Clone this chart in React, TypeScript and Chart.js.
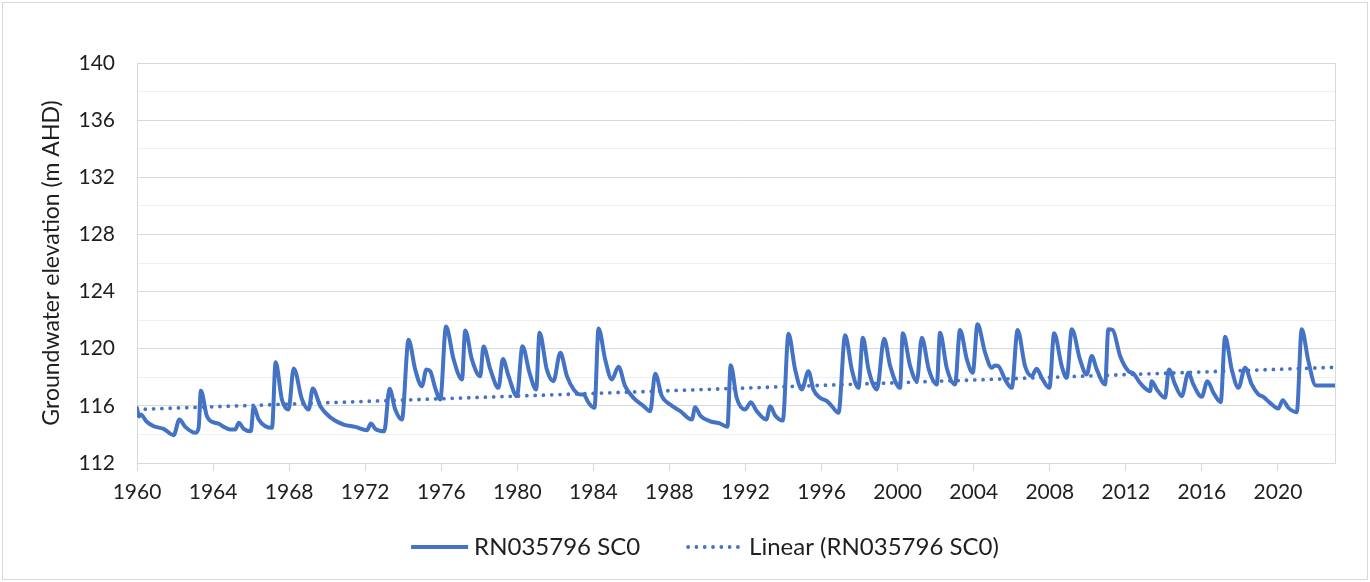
import React, { useEffect, useRef } from "react";
import { Chart, registerables } from "chart.js";

Chart.register(...registerables);

// ---- data (decimal years / groundwater elevation, m AHD) ----
const years = [
  1960.0, 1960.1, 1960.2, 1960.5, 1960.88, 1961.4, 1961.93, 1962.23, 1962.54, 1963.07,
  1963.24, 1963.36, 1963.68, 1964.12, 1964.29, 1964.56, 1964.91, 1965.17, 1965.35, 1965.61,
  1965.99, 1966.13, 1966.4, 1966.75, 1967.1, 1967.29, 1967.62, 1967.97, 1968.24, 1968.68,
  1969.03, 1969.24, 1969.64, 1970.16, 1970.86, 1971.48, 1972.09, 1972.3, 1972.53, 1973.0,
  1973.28, 1973.58, 1973.93, 1974.28, 1974.63, 1974.98, 1975.22, 1975.42, 1975.68, 1975.95,
  1976.25, 1976.65, 1977.09, 1977.26, 1977.61, 1978.05, 1978.22, 1978.58, 1979.01, 1979.24,
  1979.54, 1979.98, 1980.27, 1980.64, 1980.99, 1981.17, 1981.55, 1981.9, 1982.26, 1982.61,
  1982.96, 1983.31, 1983.48, 1983.75, 1984.06, 1984.27, 1984.62, 1984.97, 1985.32, 1985.67,
  1986.11, 1986.64, 1986.99, 1987.25, 1987.6, 1988.04, 1988.57, 1989.18, 1989.35, 1989.62,
  1990.14, 1990.67, 1991.05, 1991.22, 1991.54, 1991.98, 1992.28, 1992.59, 1993.09, 1993.3,
  1993.56, 1993.96, 1994.26, 1994.61, 1994.96, 1995.31, 1995.57, 1995.92, 1996.28, 1996.54,
  1996.89, 1997.24, 1997.59, 1997.94, 1998.17, 1998.47, 1998.91, 1999.29, 1999.61, 2000.13,
  2000.27, 2000.66, 2001.01, 2001.27, 2001.64, 2002.06, 2002.23, 2002.58, 2003.02, 2003.28,
  2003.64, 2003.95, 2004.2, 2004.6, 2004.95, 2005.12, 2005.3, 2005.65, 2006.0, 2006.31,
  2006.7, 2007.05, 2007.31, 2007.58, 2007.98, 2008.23, 2008.63, 2008.89, 2009.16, 2009.59,
  2009.94, 2010.21, 2010.47, 2010.91, 2011.08, 2011.31, 2011.7, 2012.14, 2012.4, 2012.75,
  2013.28, 2013.36, 2013.63, 2014.06, 2014.27, 2014.59, 2014.94, 2015.29, 2015.55, 2015.99,
  2016.29, 2016.61, 2016.99, 2017.22, 2017.57, 2017.92, 2018.27, 2018.62, 2018.97, 2019.23,
  2019.58, 2020.02, 2020.25, 2020.55, 2020.99, 2021.25, 2021.6, 2021.99, 2023.0,
];

const levels = [
  115.85, 115.25, 115.4, 114.9, 114.57, 114.39, 113.95, 115.05, 114.53, 114.11,
  114.46, 117.05, 115.27, 114.81, 114.76, 114.53, 114.34, 114.34, 114.81, 114.39,
  114.22, 115.95, 115.04, 114.57, 114.46, 119.05, 116.44, 115.74, 118.62, 116.44,
  115.74, 117.22, 115.98, 115.2, 114.69, 114.53, 114.29, 114.76, 114.39, 114.22,
  117.19, 115.74, 115.04, 120.62, 118.55, 117.38, 118.55, 118.43, 117.26, 116.44,
  121.55, 119.25, 117.85, 121.28, 119.25, 118.08, 120.15, 118.55, 117.26, 119.28,
  118.08, 116.68, 120.18, 118.32, 117.15, 121.12, 118.55, 117.73, 119.72, 118.08,
  117.15, 116.8, 116.8, 116.21, 115.86, 121.42, 119.25, 117.85, 118.74, 117.38,
  116.56, 115.98, 115.63, 118.25, 116.68, 116.09, 115.63, 115.04, 115.9, 115.32,
  114.92, 114.76, 114.53, 118.85, 116.55, 115.74, 116.26, 115.63, 115.04, 115.98,
  115.32, 114.97, 121.05, 118.55, 117.15, 118.43, 117.15, 116.56, 116.33, 115.98,
  115.51, 120.94, 118.55, 117.26, 120.77, 118.55, 117.15, 120.7, 118.78, 117.26,
  121.08, 118.78, 117.73, 120.77, 118.55, 117.5, 121.12, 118.67, 117.5, 121.31,
  119.25, 118.32, 121.71, 119.72, 118.67, 118.83, 118.78, 117.85, 117.26, 121.31,
  118.78, 118.08, 118.6, 117.96, 117.26, 121.08, 118.78, 117.96, 121.36, 119.25,
  118.2, 119.49, 118.55, 117.5, 121.36, 121.31, 119.49, 118.43, 118.27, 117.6,
  117.03, 117.73, 117.15, 116.56, 118.55, 117.5, 116.68, 118.32, 117.5, 116.63,
  117.73, 116.91, 116.26, 120.84, 118.55, 117.26, 118.67, 117.5, 116.8, 116.63,
  116.21, 115.81, 116.4, 115.86, 115.56, 121.36, 119.13, 117.43, 117.43,
];

// Linear trend line end points
const trendYears = [1960, 2023];
const trendLevels = [115.75, 118.7];

// Axis ticks
const xTickYears = [1960, 1964, 1968, 1972, 1976, 1980, 1984, 1988, 1992, 1996, 2000, 2004, 2008, 2012, 2016, 2020];
const yGridValues = [112, 114, 116, 118, 120, 122, 124, 126, 128, 130, 132, 134, 136, 138, 140];
const yLabelValues = [112, 116, 120, 124, 128, 132, 136, 140];

const seriesLabel = "RN035796 SC0";
const trendLabel = "Linear (RN035796 SC0)";
const yTitle = "Groundwater elevation (m AHD)";

const BLUE = "#4472C4";
const TEXT = "#1f1f1f";
const FONT = "Lato, 'Open Sans', sans-serif";

const W = 1370;
const H = 582;

const framePlugin = {
  id: "frame",
  afterDraw(chart: any) {
    const { ctx, chartArea } = chart;
    ctx.save();
    ctx.strokeStyle = "#d9d9d9";
    ctx.lineWidth = 1;
    ctx.strokeRect(2.5, 2.5, W - 5, H - 5);
    ctx.beginPath();
    ctx.moveTo(Math.round(chartArea.right) + 0.5, chartArea.top);
    ctx.lineTo(Math.round(chartArea.right) + 0.5, chartArea.bottom);
    ctx.stroke();
    ctx.restore();
  },
};

// Legend drawn from the datasets (line sample + label), centred under the plot
const legendPlugin = {
  id: "customLegend",
  afterDraw(chart: any) {
    const { ctx } = chart;
    const sets = chart.data.datasets;
    const fontSize = 24;
    const sampleW = 57;
    const sampleGap = 6;
    const itemGap = 46;
    const centerX = 705;
    const y = 547;
    ctx.save();
    ctx.font = `${fontSize}px ${FONT}`;
    const widths = sets.map((d: any) => ctx.measureText(d.label).width);
    const total =
      widths.reduce((a: number, b: number) => a + b, 0) +
      sets.length * (sampleW + sampleGap) +
      (sets.length - 1) * itemGap;
    let x = centerX - total / 2;
    sets.forEach((d: any, i: number) => {
      ctx.beginPath();
      ctx.strokeStyle = d.borderColor;
      ctx.lineWidth = d.borderWidth;
      ctx.lineCap = d.borderDash ? "round" : "butt";
      ctx.setLineDash(d.borderDash || []);
      ctx.moveTo(x + (d.borderDash ? 2 : 0), y);
      ctx.lineTo(x + sampleW, y);
      ctx.stroke();
      ctx.setLineDash([]);
      x += sampleW + sampleGap;
      ctx.fillStyle = TEXT;
      ctx.textBaseline = "middle";
      ctx.textAlign = "left";
      ctx.fillText(d.label, x, y);
      x += widths[i] + itemGap;
    });
    ctx.restore();
  },
};

export default function App() {
  const canvasRef = useRef<HTMLCanvasElement | null>(null);

  useEffect(() => {
    document.body.style.margin = "0";
    const canvas = canvasRef.current;
    if (!canvas) return;

    const seriesData = years.map((x, i) => ({ x, y: levels[i] }));
    const trendData = trendYears.map((x, i) => ({ x, y: trendLevels[i] }));

    const chart = new Chart(canvas, {
      type: "line",
      data: {
        datasets: [
          {
            label: seriesLabel,
            data: seriesData,
            borderColor: BLUE,
            backgroundColor: BLUE,
            borderWidth: 4,
            pointRadius: 0,
            cubicInterpolationMode: "monotone",
            borderJoinStyle: "round",
            borderCapStyle: "round",
            order: 2,
          },
          {
            label: trendLabel,
            data: trendData,
            borderColor: BLUE,
            backgroundColor: BLUE,
            borderWidth: 3.8,
            borderDash: [0, 8.3],
            borderCapStyle: "round",
            pointRadius: 0,
            order: 1,
          },
        ],
      },
      options: {
        responsive: false,
        animation: false,
        devicePixelRatio: 1,
        layout: { padding: { top: 63, right: 35, left: 0, bottom: 74 } },
        plugins: {
          tooltip: { enabled: false },
          legend: { display: false },
        },
        scales: {
          x: {
            type: "linear",
            min: 1960,
            max: 2023,
            afterBuildTicks: (s: any) => {
              s.ticks = xTickYears.map((v) => ({ value: v }));
            },
            afterFit: (s: any) => {
              s.height = 45;
            },
            ticks: {
              autoSkip: false,
              maxRotation: 0,
              padding: 9,
              color: TEXT,
              font: { family: FONT, size: 21 },
              callback: (v: any) => String(v),
            },
            grid: {
              drawOnChartArea: false,
              drawTicks: true,
              tickLength: 8,
              color: "#d9d9d9",
            },
            border: { display: true, color: "#d9d9d9" },
          },
          y: {
            min: 112,
            max: 140,
            afterBuildTicks: (s: any) => {
              s.ticks = yGridValues.map((v) => ({ value: v }));
            },
            afterFit: (s: any) => {
              s.width = 137;
            },
            ticks: {
              padding: 22,
              color: TEXT,
              font: { family: FONT, size: 21 },
              callback: (v: any) => (yLabelValues.includes(Number(v)) ? String(v) : ""),
            },
            grid: {
              drawTicks: false,
              color: (c: any) =>
                c.tick && yLabelValues.includes(c.tick.value) ? "#d9d9d9" : "#efefef",
            },
            border: { display: true, color: "#d9d9d9" },
            title: {
              display: true,
              text: yTitle,
              color: TEXT,
              font: { family: FONT, size: 23 },
              padding: { top: 38, bottom: 0 },
            },
          },
        },
      },
      plugins: [framePlugin, legendPlugin],
    } as any);

    return () => chart.destroy();
  }, []);

  return (
    <div style={{ position: "absolute", left: 0, top: 0, width: W, height: H, background: "#fff" }}>
      <canvas ref={canvasRef} width={W} height={H} style={{ display: "block", width: W, height: H }} />
    </div>
  );
}
